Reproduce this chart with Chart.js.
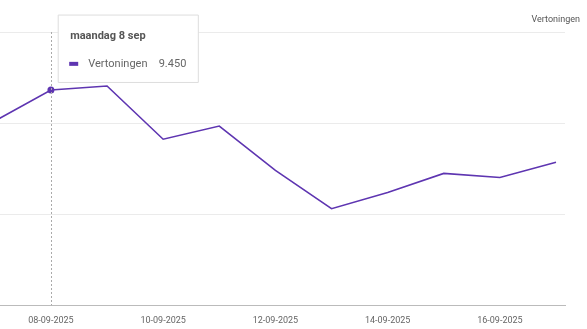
<!DOCTYPE html>
<html>
<head>
<meta charset="utf-8">
<script src="https://cdn.jsdelivr.net/npm/chart.js@4/dist/chart.umd.min.js"></script>
<style>
	html, body { margin: 0; padding: 0; background: #fff; overflow: hidden; }
	#wrap { position: absolute; left: -6px; top: 0; width: 593px; height: 340px; }
	#seriesName {
		position: absolute; right: 7px; top: 14px;
		font: 9px Roboto, sans-serif; color: #555;
	}
</style>
</head>
<body>
<div id="wrap"><canvas id="impressionsChart"></canvas></div>
<div id="seriesName">Vertoningen</div>
<script>
// data
const dates = [
	'07-09-2025', '08-09-2025', '09-09-2025', '10-09-2025', '11-09-2025', '12-09-2025',
	'13-09-2025', '14-09-2025', '15-09-2025', '16-09-2025', '17-09-2025',
];
const dayTitles = [
	'zondag 7 sep', 'maandag 8 sep', 'dinsdag 9 sep', 'woensdag 10 sep', 'donderdag 11 sep', 'vrijdag 12 sep',
	'zaterdag 13 sep', 'zondag 14 sep', 'maandag 15 sep', 'dinsdag 16 sep', 'woensdag 17 sep',
];
const impressions = [8090, 9450, 9630, 7290, 7870, 5920, 4240, 4950, 5790, 5610, 6280];
const seriesLabel = 'Vertoningen';
const yMax = 12000;
const yStep = 4000;
const xMax = 10.16; // axis runs a little past the last day
const activeIndex = 1;

const purple = '#5e35b1';

const formatNl = (v) => String(v).replace(/\B(?=(\d{3})+(?!\d))/g, '.');

// tooltip box sits above-right of the hovered point
Chart.Tooltip.positioners.aboveRight = function (elements) {
	if (!elements.length) return false;
	const el = elements[0].element;
	return { x: el.x + 8, y: el.y - 75, xAlign: 'left', yAlign: 'top' };
};

// dashed vertical line at the active point
const crosshair = {
	id: 'crosshair',
	afterDatasetsDraw(chart) {
		const active = chart.tooltip.getActiveElements();
		if (!active.length) return;
		const x = active[0].element.x;
		const { top, bottom } = chart.chartArea;
		const ctx = chart.ctx;
		ctx.save();
		ctx.beginPath();
		ctx.setLineDash([2, 2]);
		ctx.lineWidth = 1;
		ctx.strokeStyle = '#aaa';
		ctx.moveTo(Math.round(x) + 0.5, top);
		ctx.lineTo(Math.round(x) + 0.5, bottom);
		ctx.stroke();
		ctx.restore();
	},
};

const points = impressions.map((v, i) => ({ x: i, y: v }));

const ctx = document.getElementById('impressionsChart').getContext('2d');
const chart = new Chart(ctx, {
	type: 'line',
	data: {
		datasets: [
			{
				label: seriesLabel,
				data: points,
				borderColor: purple,
				backgroundColor: purple,
				borderWidth: 1.6,
				tension: 0,
				pointRadius: 0,
				pointHoverRadius: 3.5,
				pointHoverBorderWidth: 0,
				pointHoverBackgroundColor: purple,
			},
		],
	},
	options: {
		responsive: true,
		maintainAspectRatio: false,
		animation: false,
		events: [],
		layout: { padding: { top: 32, right: 22, bottom: 4, left: 0 } },
		plugins: {
			legend: { display: false },
			title: { display: false },
			tooltip: {
				position: 'aboveRight',
				backgroundColor: '#fff',
				borderColor: '#ddd',
				borderWidth: 1,
				cornerRadius: 0,
				caretSize: 0,
				caretPadding: 0,
				padding: { top: 15, bottom: 12, left: 12, right: 12 },
				titleColor: '#555',
				titleFont: { family: 'Roboto', size: 11, weight: 'bold' },
				titleMarginBottom: 14,
				bodyColor: '#666',
				bodyFont: { family: 'Roboto', size: 11 },
				displayColors: true,
				boxWidth: 7,
				boxHeight: 2,
				boxPadding: 9,
				callbacks: {
					title: (items) => dayTitles[items[0].dataIndex],
					label: (item) => item.dataset.label + '\u2003' + formatNl(item.raw.y),
					labelColor: () => ({ borderColor: purple, backgroundColor: purple, borderWidth: 2 }),
				},
			},
		},
		scales: {
			x: {
				type: 'linear',
				min: 0,
				max: xMax,
				grid: { drawOnChartArea: false, drawTicks: false },
				border: { display: true, color: '#bbb', width: 1 },
				ticks: {
					stepSize: 1,
					autoSkip: false,
					maxRotation: 0,
					padding: 10,
					color: '#666',
					font: { family: 'Roboto', size: 9 },
					callback: (value) => {
						const i = Number(value);
						return Number.isInteger(i) && i % 2 === 1 && i < dates.length - 1 ? dates[i] : null;
					},
				},
			},
			y: {
				min: 0,
				max: yMax,
				ticks: { display: false, stepSize: yStep },
				border: { display: false },
				grid: {
					drawTicks: false,
					color: (c) => (c.tick && c.tick.value === 0 ? 'rgba(0,0,0,0)' : '#ebebeb'),
				},
			},
		},
	},
	plugins: [crosshair],
});

const activeEls = [{ datasetIndex: 0, index: activeIndex }];
chart.setActiveElements(activeEls);
chart.tooltip.setActiveElements(activeEls, { x: 0, y: 0 });
chart.update();
</script>
</body>
</html>
